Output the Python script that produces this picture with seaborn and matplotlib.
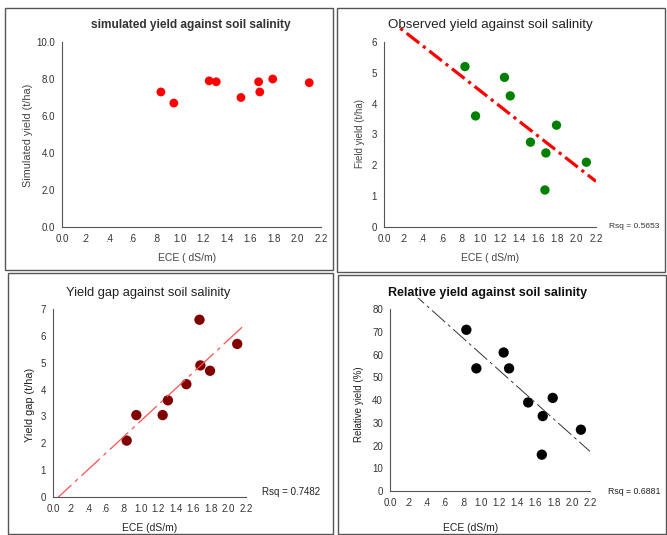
import numpy as np
import pandas as pd
import matplotlib
matplotlib.use('Agg')
import matplotlib.pyplot as plt
import matplotlib.patches as patches
import seaborn as sns

sns.set_style('white')
plt.rcParams['font.family'] = ['Liberation Sans', 'DejaVu Sans']

# data
ece = [0.84, 0.95, 1.25, 1.31, 1.52, 1.67, 1.68, 1.79, 2.10]
simulated = [7.3, 6.7, 7.9, 7.85, 7.0, 7.85, 7.3, 8.0, 7.8]
observed = [5.2, 3.6, 4.85, 4.25, 2.75, 1.2, 2.4, 3.3, 2.1]
gap = [2.1, 3.05, 3.05, 3.6, 4.2, 6.6, 4.9, 4.7, 5.7]
relative = [71, 54, 61, 54, 39, 16, 33, 41, 27]

x_ticks = [0.0, 0.2, 0.4, 0.6, 0.8, 1.0, 1.2, 1.4, 1.6, 1.8, 2.0, 2.2]
x_ticklabels = ['0.0', '.2', '.4', '.6', '.8', '1.0', '1.2', '1.4', '1.6', '1.8', '2.0', '2.2']
rsq_obs = 'Rsq = 0.5653'
rsq_gap = 'Rsq = 0.7482'
rsq_rel = 'Rsq = 0.6881'

data = pd.DataFrame({'ece': ece, 'sim': simulated, 'obs': observed,
                     'gap': gap, 'rel': relative})

W, H = 667, 535
fig = plt.figure(figsize=(W / 100, H / 100), dpi=100)


def px_axes(x0, x1, ytop, ybot):
    return fig.add_axes([x0 / W, 1 - ybot / H, (x1 - x0) / W, (ybot - ytop) / H])


def px_text(x, y, s, **kw):
    kw.setdefault('ha', 'center')
    kw.setdefault('va', 'center')
    return fig.text(x / W, 1 - y / H, s, **kw)


def style(ax, ymax_tick, yticks, yticklabels=None):
    ax.set_xlim(0, 2.2)
    ax.set_xticks(x_ticks)
    ax.set_xticklabels(x_ticklabels)
    ax.set_yticks(yticks)
    if yticklabels is not None:
        ax.set_yticklabels(yticklabels)
    for s in ['top', 'right']:
        ax.spines[s].set_visible(False)
    for s in ['left', 'bottom']:
        ax.spines[s].set_color('#555555')
        ax.spines[s].set_linewidth(0.8)
    ax.spines['left'].set_bounds(0, ymax_tick)
    ax.tick_params(axis='both', direction='out', length=3, width=0.7,
                   colors='#555555', labelsize=7, labelcolor='#333333', pad=2)
    ax.set_xlabel('')
    ax.set_ylabel('')
    ax.grid(False)


# frames round each panel
for (x0, y0, x1, y1) in [(5, 8, 333, 270), (337, 8, 665, 272),
                         (8, 273, 333, 534), (338, 275, 666, 534)]:
    fig.patches.append(patches.Rectangle((x0 / W, 1 - y1 / H), (x1 - x0) / W, (y1 - y0) / H,
                                         transform=fig.transFigure, fill=False,
                                         edgecolor='#555555', linewidth=1.0))

# panel 1
ax1 = px_axes(62, 321, 42, 227)
ax1.set_ylim(0, 10)
sns.scatterplot(data=data, x='ece', y='sim', ax=ax1, color='#ff0000', s=40,
                edgecolor='none', legend=False)
style(ax1, 10, [0, 2, 4, 6, 8, 10], ['0.0', '2.0', '4.0', '6.0', '8.0', '10.0'])
ax1.set_ylim(0, 10)
px_text(187, 258, 'ECE ( dS/m)', fontsize=7.5, color='#444444')
px_text(28, 135, 'Simulated yield (t/ha)', fontsize=7.8, color='#444444', rotation=90)
px_text(191, 25, 'simulated yield against soil salinity', fontsize=8.6,
        fontweight='bold', color='#333333')

# panel 2
ax2 = px_axes(384, 596, 28, 227)
ax2.set_xlim(0, 2.2)
ax2.set_ylim(0, 6.45)
sns.regplot(data=data, x='ece', y='obs', ax=ax2, ci=None, truncate=False,
            scatter_kws={'color': '#008000', 's': 45, 'edgecolor': 'none', 'alpha': 1},
            line_kws={'color': '#ff0000', 'lw': 2.3, 'dashes': (5, 1.5, 1, 1.5)})
style(ax2, 6, [0, 1, 2, 3, 4, 5, 6])
ax2.set_ylim(0, 6.45)
px_text(490, 258, 'ECE ( dS/m)', fontsize=7.5, color='#444444')
px_text(360, 134, 'Field yield (t/ha)', fontsize=7, color='#444444', rotation=90)
px_text(490, 25, 'Observed yield against soil salinity', fontsize=9.6, color='#222222')
px_text(659, 226, rsq_obs, ha='right', fontsize=6, color='#333333')

# panel 3
ax3 = px_axes(53, 246, 309, 497)
ax3.set_xlim(0, 2.2)
ax3.set_ylim(0, 7)
sns.regplot(data=data, x='ece', y='gap', ax=ax3, ci=None, truncate=False,
            scatter_kws={'color': '#800000', 's': 55, 'edgecolor': 'none', 'alpha': 1},
            line_kws={'color': '#ff5050', 'lw': 0.9, 'dashes': (20, 4, 3, 4)})
style(ax3, 7, [0, 1, 2, 3, 4, 5, 6, 7])
ax3.set_ylim(0, 7)
px_text(150, 528, 'ECE (dS/m)', fontsize=7.5, color='#222222')
px_text(30, 405, 'Yield gap (t/ha)', fontsize=7.8, color='#222222', rotation=90)
px_text(148, 293, 'Yield gap against soil salinity', fontsize=9.3, color='#222222')
px_text(262, 492, rsq_gap, ha='left', fontsize=7, color='#222222')

# panel 4
ax4 = px_axes(390, 590, 298, 491)
ax4.set_xlim(0, 2.2)
ax4.set_ylim(0, 85)
sns.regplot(data=data, x='ece', y='rel', ax=ax4, ci=None, truncate=False,
            scatter_kws={'color': '#000000', 's': 55, 'edgecolor': 'none', 'alpha': 1},
            line_kws={'color': '#333333', 'lw': 0.7, 'dashes': (18, 4, 3, 4)})
style(ax4, 80, [0, 10, 20, 30, 40, 50, 60, 70, 80])
ax4.set_ylim(0, 85)
px_text(471, 528, 'ECE (dS/m)', fontsize=7.5, color='#222222')
px_text(359, 404, 'Relative yield (%)', fontsize=7, color='#222222', rotation=90)
px_text(488, 293, 'Relative yield against soil salinity', fontsize=9,
        fontweight='bold', color='#111111')
px_text(608, 492, rsq_rel, ha='left', fontsize=6.3, color='#222222')

fig.savefig('out.png', dpi=100, facecolor='white')
